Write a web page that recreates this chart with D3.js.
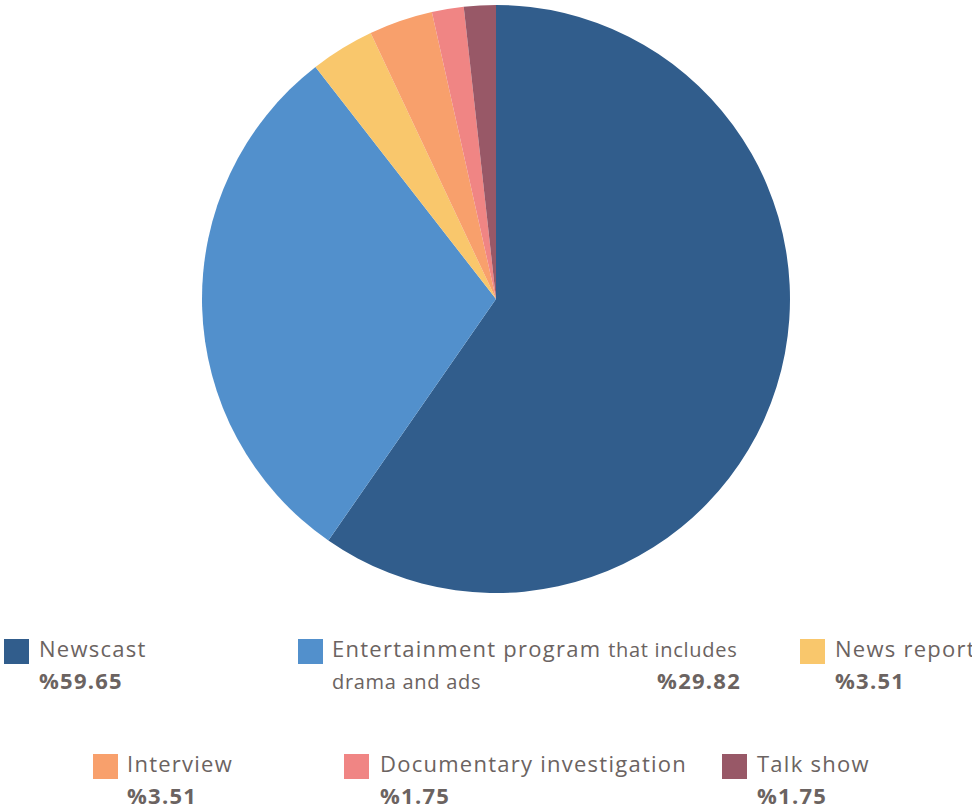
<!DOCTYPE html>
<html>
<head>
<meta charset="utf-8">
<script src="https://cdn.jsdelivr.net/npm/d3@7"></script>
<style>
  html, body { margin: 0; padding: 0; background: #fff; }
  svg { display: block; }
  text { font-family: "Open Sans", "Noto Sans", sans-serif; fill: #6b6361; }
</style>
</head>
<body>
<svg id="chart" width="972" height="810"></svg>
<script>
// Program types and their share (%)
const categories = [
  "Newscast",
  "Entertainment program that includes drama and ads",
  "News report",
  "Interview",
  "Documentary investigation",
  "Talk show"
];
const values = [59.65, 29.82, 3.51, 3.51, 1.75, 1.75];
const colors = ["#315d8c", "#5290cc", "#f9c76c", "#f8a06c", "#f08584", "#985867"];

const svg = d3.select("#chart");

// Pie
const cx = 496, cy = 299, radius = 294;
const pie = d3.pie().sort(null).value(d => d.value);
const arc = d3.arc().innerRadius(0).outerRadius(radius);
const data = categories.map((c, i) => ({ name: c, value: values[i], color: colors[i] }));

svg.append("g")
  .attr("transform", `translate(${cx},${cy})`)
  .selectAll("path")
  .data(pie(data))
  .join("path")
  .attr("d", arc)
  .attr("fill", d => d.data.color);

// Legend slots: square position, text x
const legendSlots = [
  { x: 4,   y: 639, tx: 39 },
  { x: 298, y: 639, tx: 332, valueRight: 741 },
  { x: 800, y: 639, tx: 835 },
  { x: 93,  y: 754, tx: 127 },
  { x: 344, y: 754, tx: 380 },
  { x: 722, y: 754, tx: 757 }
];

const fmt = v => "%" + d3.format(".2f")(v);

function big(sel) {
  return sel.style("font-size", "22px").style("letter-spacing", "1.25px");
}
function small(sel) {
  return sel.style("font-size", "20px").style("letter-spacing", "0.7px");
}

const legend = svg.append("g");
data.forEach((d, i) => {
  const s = legendSlots[i];
  const g = legend.append("g");
  g.append("rect")
    .attr("x", s.x).attr("y", s.y)
    .attr("width", 25).attr("height", 25)
    .attr("fill", d.color);

  if (i === 1) {
    // long name: first words large, the rest in a smaller size over two lines
    const t = g.append("text").attr("x", s.tx).attr("y", s.y + 18);
    big(t.append("tspan")).text("Entertainment program ");
    small(t.append("tspan")).text("that includes");
    small(g.append("text").attr("x", s.tx).attr("y", s.y + 50)).text("drama and ads");
    big(g.append("text").attr("x", s.valueRight).attr("y", s.y + 50)
      .attr("text-anchor", "end")
      .style("font-weight", "700"))
      .text(fmt(d.value));
  } else {
    big(g.append("text").attr("x", s.tx).attr("y", s.y + 18)).text(d.name);
    big(g.append("text").attr("x", s.tx).attr("y", s.y + 50)
      .style("font-weight", "700"))
      .text(fmt(d.value));
  }
});
</script>
</body>
</html>
